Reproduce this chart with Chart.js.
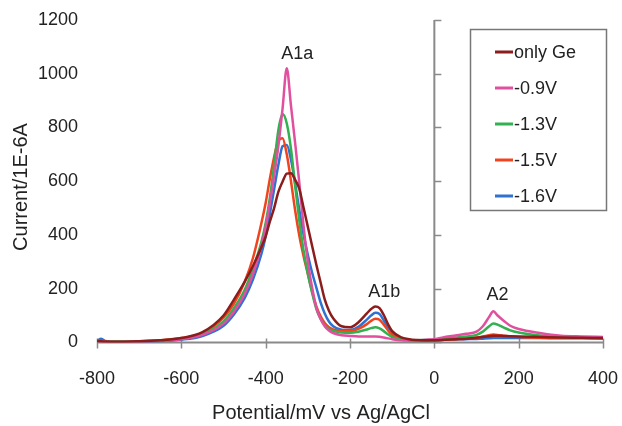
<!DOCTYPE html>
<html>
<head>
<meta charset="utf-8">
<script src="https://cdn.jsdelivr.net/npm/chart.js@4/dist/chart.umd.min.js"></script>
<style>
  html, body { margin: 0; padding: 0; background: #fff; }
  #wrap { width: 622px; height: 426px; position: relative; }
</style>
</head>
<body>
<div id="wrap"><canvas id="cv"></canvas></div>
<script>
// potential (mV vs Ag/AgCl), common x grid for every curve
const potentials = [
  -800, -790, -780, -760,
  -700, -650, -600, -550, -500,
  -475, -450, -430, -410, -400,
  -390, -380, -370, -360, -350,
  -340, -330, -320, -310, -300,
  -290, -280, -270, -260, -250,
  -240, -220, -200, -180, -160,
  -150, -140, -130, -120, -110,
  -100, -80, -60, -40, -20,
  0, 25, 50, 75, 100,
  115, 130, 140, 150, 165,
  180, 200, 250, 300, 350,
  400
];

const seriesNames = ["only Ge", "-0.9V", "-1.3V", "-1.5V", "-1.6V"];
const seriesColors = ["#8b1d1d", "#e0509e", "#33b04f", "#f0441e", "#2f72d0"];

// current (1E-6 A)
const onlyGe = [
  5, 4, 3, 2,
  4, 8, 16, 38, 100,
  160, 225, 285, 355, 395,
  450, 500, 560, 598, 628,
  630, 605, 570, 500, 430,
  360, 290, 225, 160, 118,
  90, 60, 56, 75, 108,
  124, 134, 128, 102, 68,
  42, 20, 12, 9, 8,
  8, 10, 12, 14, 17,
  20, 23, 25, 25, 24,
  23, 22, 20, 18, 17,
  16
];
const v09 = [
  3, 2, 2, 1,
  3, 6, 12, 28, 70,
  115, 180, 255, 360, 430,
  520, 620, 730, 870, 1020,
  880, 740, 590, 430, 300,
  205, 130, 88, 60, 44,
  35, 27, 24, 22, 22,
  22, 22, 21, 18, 15,
  12, 8, 7, 8, 10,
  12, 20, 26, 32, 40,
  60, 95, 116, 100, 80,
  62, 50, 35, 25, 22,
  20
];
const v13 = [
  4, 3, 2, 2,
  4, 7, 14, 30, 78,
  128, 195, 275, 375, 445,
  540, 660, 790, 850, 815,
  720, 580, 450, 340, 255,
  185, 125, 88, 64, 50,
  43, 37, 36, 40, 48,
  53, 56, 52, 42, 30,
  20, 12, 9, 8, 9,
  10, 14, 18, 22, 28,
  40, 60, 70, 66, 55,
  45, 37, 26, 20, 18,
  17
];
const v15 = [
  8, 4, 3, 2,
  4, 8, 16, 34, 92,
  145, 225, 315, 445, 520,
  610, 690, 750, 760, 700,
  600, 490, 395, 320, 255,
  190, 135, 98, 72, 56,
  48, 42, 42, 50, 68,
  80, 88, 84, 66, 45,
  28, 14, 9, 7, 7,
  8, 10, 12, 14, 18,
  22, 27, 29, 28, 25,
  22, 20, 17, 15, 15,
  14
];
const v16 = [
  6, 14, 5, 2,
  2, 5, 10, 24, 62,
  105, 165, 235, 330, 395,
  480, 570, 660, 730, 735,
  680, 590, 490, 400, 325,
  260, 205, 150, 108, 78,
  60, 47, 46, 58, 85,
  100, 110, 106, 82, 55,
  32, 15, 9, 7, 7,
  8, 10, 11, 12, 13,
  14, 15, 16, 16, 16,
  16, 16, 16, 16, 16,
  16
];
const seriesValues = [onlyGe, v09, v13, v15, v16];

// peak labels: [text, potential, current]
const peakLabels = [["A1a", -325, 1073], ["A1b", -119, 186], ["A2", 150, 175]];

const xTicks = { min: -800, max: 400, step: 200 };
const yTicks = { min: 0, max: 1200, step: 200 };
const xTitle = "Potential/mV vs Ag/AgCl";
const yTitle = "Current/1E-6A";

const FONT = "'Liberation Sans', Arial, sans-serif";
const TEXT = "#222";
const AXIS = "#8a8a8a";

// axis lines crossing at 0, tick marks, titles, peak labels, legend
const crossAxes = {
  id: "crossAxes",
  beforeDatasetsDraw(chart) {
    const { ctx, scales: { x, y } } = chart;
    const x0 = x.getPixelForValue(0);
    const y0 = y.getPixelForValue(0);
    ctx.save();
    ctx.strokeStyle = AXIS;
    ctx.lineWidth = 2;
    ctx.beginPath();
    ctx.moveTo(x.getPixelForValue(xTicks.min), y0);
    ctx.lineTo(x.getPixelForValue(xTicks.max), y0);
    ctx.moveTo(x0, y.getPixelForValue(yTicks.min));
    ctx.lineTo(x0, y.getPixelForValue(yTicks.max));
    ctx.stroke();
    ctx.lineWidth = 1.5;
    ctx.beginPath();
    for (let v = xTicks.min; v <= xTicks.max; v += xTicks.step) {
      const px = Math.round(x.getPixelForValue(v)) + 0.5;
      ctx.moveTo(px, y0 - 4);
      ctx.lineTo(px, y0 + 6);
    }
    for (let v = yTicks.min; v <= yTicks.max; v += yTicks.step) {
      const py = Math.round(y.getPixelForValue(v)) + 0.5;
      ctx.moveTo(x0, py);
      ctx.lineTo(x0 + 7, py);
    }
    ctx.stroke();

    // axis titles
    ctx.font = "20px " + FONT;
    ctx.fillStyle = TEXT;
    ctx.textAlign = "center";
    ctx.textBaseline = "middle";
    ctx.fillText(xTitle, 321, 413);
    ctx.translate(21, 187);
    ctx.rotate(-Math.PI / 2);
    ctx.fillText(yTitle, 0, 0);
    ctx.restore();
  },
  afterDatasetsDraw(chart) {
    const { ctx, scales: { x, y } } = chart;
    ctx.save();
    ctx.font = "18px " + FONT;
    ctx.fillStyle = TEXT;
    ctx.textAlign = "center";
    ctx.textBaseline = "middle";
    peakLabels.forEach(([t, px, py]) => {
      ctx.fillText(t, x.getPixelForValue(px), y.getPixelForValue(py));
    });

    // legend box inside the plot
    const bx = 470, by = 29, bw = 136, bh = 181;
    ctx.strokeStyle = "#777";
    ctx.lineWidth = 1.5;
    ctx.strokeRect(bx + 0.5, by + 0.5, bw, bh);
    ctx.textAlign = "left";
    chart.data.datasets.forEach((ds, i) => {
      const cy = by + 23 + i * 36;
      ctx.strokeStyle = ds.borderColor;
      ctx.lineWidth = 3;
      ctx.beginPath();
      ctx.moveTo(bx + 25, cy);
      ctx.lineTo(bx + 43, cy);
      ctx.stroke();
      ctx.fillText(ds.label, bx + 44, cy + 1);
    });
    ctx.restore();
  }
};

new Chart(document.getElementById("cv"), {
  type: "line",
  data: {
    datasets: seriesNames.map((name, i) => ({
      label: name,
      data: potentials.map((p, j) => ({ x: p, y: seriesValues[i][j] })),
      borderColor: seriesColors[i],
      backgroundColor: seriesColors[i],
      borderWidth: 2.5,
      pointRadius: 0,
      cubicInterpolationMode: "monotone",
      fill: false
    }))
  },
  options: {
    responsive: true,
    maintainAspectRatio: false,
    animation: false,
    layout: { padding: { left: 35, right: 19, top: 20, bottom: 33 } },
    plugins: {
      legend: { display: false },
      tooltip: { enabled: false }
    },
    scales: {
      x: {
        type: "linear",
        min: xTicks.min,
        max: xTicks.max,
        // grid hidden; tickLength only reserves room above the labels
        grid: { display: false, drawTicks: true, tickLength: 23 },
        border: { display: false },
        ticks: {
          stepSize: xTicks.step,
          padding: 3,
          color: TEXT,
          font: { family: FONT, size: 18 },
          callback: (v) => String(v)
        }
      },
      y: {
        min: yTicks.min,
        max: yTicks.max,
        grid: { display: false, drawTicks: true, tickLength: 16 },
        border: { display: false },
        ticks: {
          stepSize: yTicks.step,
          padding: 3,
          color: TEXT,
          font: { family: FONT, size: 18 },
          callback: (v) => String(v)
        }
      }
    }
  },
  plugins: [crossAxes]
});
</script>
</body>
</html>
